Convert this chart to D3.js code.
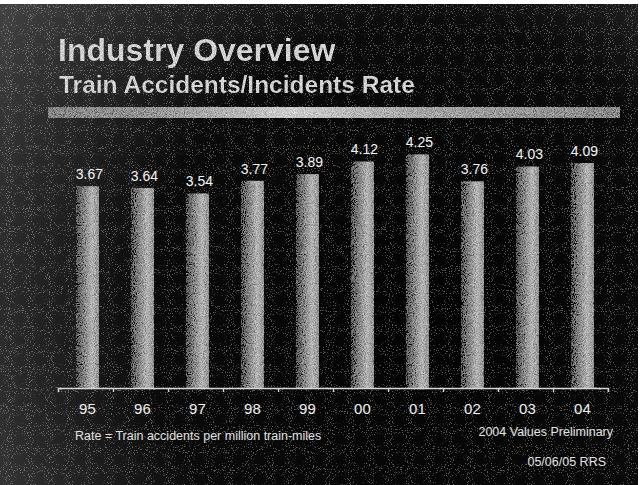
<!DOCTYPE html>
<html>
<head>
<meta charset="utf-8">
<script src="https://cdn.jsdelivr.net/npm/d3@7"></script>
<style>
  html, body { margin: 0; padding: 0; background: #ffffff; overflow: hidden; }
  svg { display: block; }
</style>
</head>
<body>
<div id="chart"></div>
<script>
// ---- data ----
const years = ["95", "96", "97", "98", "99", "00", "01", "02", "03", "04"];
const rates = [3.67, 3.64, 3.54, 3.77, 3.89, 4.12, 4.25, 3.76, 4.03, 4.09];
const titleText = "Industry Overview";
const subtitleText = "Train Accidents/Incidents Rate";
const footnoteText = "Rate = Train accidents per million train-miles";
const noteText = "2004 Values Preliminary";
const stampText = "05/06/05 RRS";

// ---- setup ----
const W = 644, H = 485;
const FONT = "'Liberation Sans', Arial, Helvetica, sans-serif";
const svg = d3.select("#chart").append("svg").attr("width", W).attr("height", H);
const defs = svg.append("defs");

// background radial gradient (lighter toward top-left edges)
const bg = defs.append("radialGradient").attr("id", "bgGrad")
  .attr("gradientUnits", "userSpaceOnUse")
  .attr("cx", 430).attr("cy", 310).attr("r", 520);
bg.append("stop").attr("offset", "0%").attr("stop-color", "#030303");
bg.append("stop").attr("offset", "55%").attr("stop-color", "#0a0a0a");
bg.append("stop").attr("offset", "100%").attr("stop-color", "#404040");

// speckle noise filter
const sp = defs.append("filter").attr("id", "speckle")
  .attr("x", 0).attr("y", 0).attr("width", "100%").attr("height", "100%");
sp.append("feTurbulence").attr("type", "fractalNoise").attr("baseFrequency", 0.95)
  .attr("numOctaves", 1).attr("seed", 7).attr("result", "t");
sp.append("feColorMatrix").attr("type", "matrix")
  .attr("values", "0 0 0 0 1  0 0 0 0 1  0 0 0 0 1  9 0 0 0 -5.3");

// texture filter for bars / band / titles
const tx = defs.append("filter").attr("id", "grain")
  .attr("x", 0).attr("y", 0).attr("width", "100%").attr("height", "100%");
tx.append("feTurbulence").attr("type", "fractalNoise").attr("baseFrequency", 1.1)
  .attr("numOctaves", 1).attr("seed", 3).attr("result", "n");
tx.append("feColorMatrix").attr("in", "n").attr("type", "matrix")
  .attr("values", "1 0 0 0 0  1 0 0 0 0  1 0 0 0 0  0 0 0 0 1").attr("result", "ng");
tx.append("feComposite").attr("in", "SourceGraphic").attr("in2", "ng")
  .attr("operator", "arithmetic").attr("k1", 0).attr("k2", 1).attr("k3", 0.9).attr("k4", -0.45)
  .attr("result", "mix");
tx.append("feComposite").attr("in", "mix").attr("in2", "SourceGraphic").attr("operator", "in");

// bar gradient
const bgBar = defs.append("linearGradient").attr("id", "barGrad")
  .attr("x1", "0%").attr("x2", "100%").attr("y1", "0%").attr("y2", "0%");
[["0%", "#4c4c4c"], ["30%", "#7c7c7c"], ["70%", "#b4b4b4"], ["100%", "#939393"]]
  .forEach(([o, c]) => bgBar.append("stop").attr("offset", o).attr("stop-color", c));

// band gradient
const bandGrad = defs.append("linearGradient").attr("id", "bandGrad")
  .attr("x1", "0%").attr("x2", "100%");
[["0%", "#858585"], ["20%", "#969696"], ["42%", "#cccccc"], ["65%", "#a4a4a4"], ["100%", "#8a8a8a"]]
  .forEach(([o, c]) => bandGrad.append("stop").attr("offset", o).attr("stop-color", c));

// ---- background ----
svg.append("rect").attr("x", 0).attr("y", 4).attr("width", 638).attr("height", H - 4)
  .attr("fill", "url(#bgGrad)");
svg.append("rect").attr("x", 0).attr("y", 4).attr("width", 638).attr("height", H - 4)
  .attr("fill", "#fff").attr("opacity", 0.35).attr("filter", "url(#speckle)");

// ---- titles ----
svg.append("text").attr("x", 58).attr("y", 61)
  .attr("font-family", FONT).attr("font-weight", "bold").attr("font-size", 32)
  .attr("fill", "#d2d2d2").attr("filter", "url(#grain)").text(titleText);
svg.append("text").attr("x", 59).attr("y", 93)
  .attr("font-family", FONT).attr("font-weight", "bold").attr("font-size", 24.5)
  .attr("fill", "#d2d2d2").attr("filter", "url(#grain)").text(subtitleText);

svg.append("rect").attr("x", 48).attr("y", 107).attr("width", 572).attr("height", 11)
  .attr("fill", "url(#bandGrad)").attr("filter", "url(#grain)");

// ---- scales ----
const x = d3.scaleBand().domain(years).range([58, 608])
  .paddingInner(0.58).paddingOuter(0.29).align(0.56);
const y = d3.scaleLinear().domain([0, 5]).range([388, 113]);
const xEdges = d3.scaleLinear().domain([0, years.length]).range(x.range());

// ---- bars ----
const data = years.map((yr, i) => ({ yr, v: rates[i] }));
svg.append("g").attr("filter", "url(#grain)")
  .selectAll("rect").data(data).join("rect")
  .attr("x", d => x(d.yr)).attr("width", x.bandwidth())
  .attr("y", d => y(d.v)).attr("height", d => y(0) - y(d.v))
  .attr("fill", "url(#barGrad)");

// value labels
svg.append("g").selectAll("text").data(data).join("text")
  .attr("x", d => x(d.yr) + x.bandwidth() / 2 + 2)
  .attr("y", d => y(d.v) - 7)
  .attr("text-anchor", "middle")
  .attr("font-family", FONT).attr("font-size", 14)
  .attr("fill", "#f2f2f2")
  .text(d => d3.format(".2f")(d.v));

// ---- axis ----
const axisG = svg.append("g").attr("transform", `translate(0,${y(0)})`);
axisG.append("g")
  .call(d3.axisBottom(xEdges).ticks(years.length).tickFormat("").tickSize(4).tickSizeOuter(4))
  .call(g => g.selectAll("path,line").attr("stroke", "#d8d8d8").attr("stroke-width", 1.3));
axisG.append("g")
  .call(d3.axisBottom(x).tickSize(0).tickPadding(15))
  .call(g => g.select(".domain").remove())
  .call(g => g.selectAll("text").attr("font-family", FONT).attr("font-size", 15).attr("fill", "#eeeeee"));

// ---- notes ----
svg.append("text").attr("x", 75).attr("y", 440)
  .attr("font-family", FONT).attr("font-size", 12.5).attr("fill", "#e2e2e2").text(footnoteText);
svg.append("text").attr("x", 613).attr("y", 436).attr("text-anchor", "end")
  .attr("font-family", FONT).attr("font-size", 12.5).attr("fill", "#e2e2e2").text(noteText);
svg.append("text").attr("x", 606).attr("y", 466).attr("text-anchor", "end")
  .attr("font-family", FONT).attr("font-size", 12.5).attr("fill", "#e2e2e2").text(stampText);
</script>
</body>
</html>
